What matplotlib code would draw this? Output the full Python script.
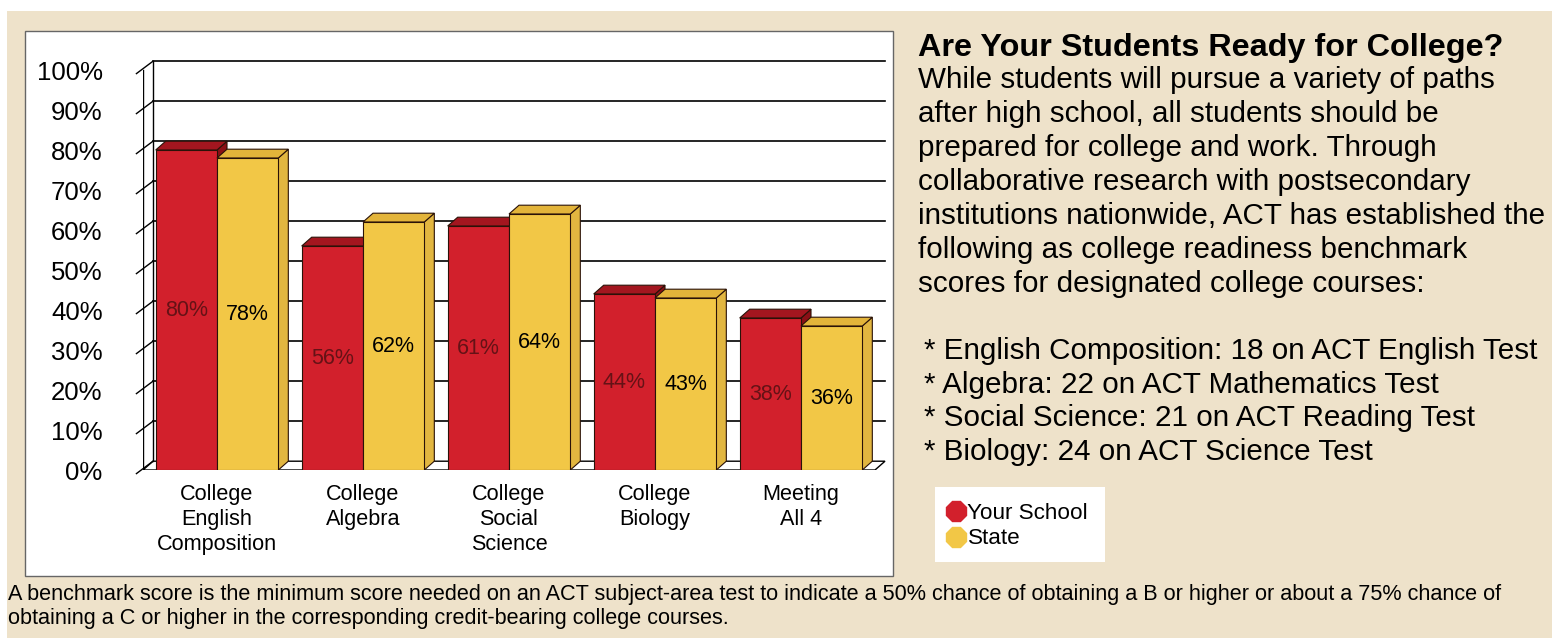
import matplotlib
matplotlib.use('Agg')
from matplotlib import pyplot as plt
from matplotlib.patches import Polygon, Rectangle
from matplotlib.lines import Line2D

plt.rcParams['font.family'] = ['Liberation Sans', 'DejaVu Sans']

# data
categories = ['College\nEnglish\nComposition', 'College\nAlgebra',
              'College\nSocial\nScience', 'College\nBiology', 'Meeting\nAll 4']
school = [80, 56, 61, 44, 38]
state = [78, 62, 64, 43, 36]
series_names = ['Your School', 'State']
yticks = list(range(0, 101, 10))

title = 'Are Your Students Ready for College?'
body_lines = ['While students will pursue a variety of paths',
              'after high school, all students should be',
              'prepared for college and work. Through',
              'collaborative research with postsecondary',
              'institutions nationwide, ACT has established the',
              'following as college readiness benchmark',
              'scores for designated college courses:']
benchmarks = ['* English Composition: 18 on ACT English Test',
              '* Algebra: 22 on ACT Mathematics Test',
              '* Social Science: 21 on ACT Reading Test',
              '* Biology: 24 on ACT Science Test']
footnote = ['A benchmark score is the minimum score needed on an ACT subject-area test to indicate a 50% chance of obtaining a B or higher or about a 75% chance of',
            'obtaining a C or higher in the corresponding credit-bearing college courses.']

W, H = 1552, 638
BG = '#EEE2CA'
RED = ('#D2202C', '#A3161F', '#8A1016')      # front, top, side
YEL = ('#F2C746', '#E3B43A', '#E2B640')

fig = plt.figure(figsize=(W / 100, H / 100), dpi=100)
fig.patch.set_facecolor('white')

def fx(px):
    return px / W

def fy(py):
    return 1 - py / H

# tan page and white chart panel
fig.patches.append(Rectangle((fx(7), 0), 1, fy(11), transform=fig.transFigure,
                             facecolor=BG, edgecolor='none', zorder=0))
fig.patches.append(Rectangle((fx(25), fy(576)), fx(893 - 25), (576 - 31) / H,
                             transform=fig.transFigure, facecolor='white',
                             edgecolor='#666666', lw=1.0, zorder=0))

# axes: x in group units (centres 0..4), y in percent
left_px, right_px, base_px, top_px = 143, 893, 470, 30
c0, step = 217, 146
ax = fig.add_axes([fx(left_px), fy(base_px), fx(right_px - left_px), (base_px - top_px) / H])
ax.set_zorder(2)
ax.set_xlim((left_px - c0) / step, (right_px - c0) / step)
ax.set_ylim(0, (base_px - top_px) / 4)
ax.patch.set_alpha(0)
for s in ax.spines.values():
    s.set_visible(False)
ax.set_xticks([])
ax.set_yticks(yticks)
ax.set_yticklabels(['%d%%' % t for t in yticks], fontsize=18.5)
ax.tick_params(axis='y', length=0, pad=29)

dx, dy = 10 / step, 2.2
xf = (left_px - c0) / step
xr = (885 - c0) / step
xb = xf + dx
bw = 0.42

# 3d frame: floor, left wall, back wall grid
floor = Polygon([(xf, 0), (xr - dx, 0), (xr, dy), (xb, dy)], closed=True,
                facecolor='white', edgecolor='black', lw=1.0, zorder=1)
ax.add_patch(floor)
ax.plot([xf, xf], [0, 100], color='black', lw=1.0, zorder=1)
ax.plot([xb, xb], [dy, 100 + dy], color='black', lw=1.0, zorder=1)
for t in yticks[1:]:
    ax.plot([xb, xr], [t + dy, t + dy], color='black', lw=1.2, zorder=1)
for t in yticks:
    ax.plot([xf - 0.045, xb], [t - 0.9, t + dy], color='black', lw=1.0, zorder=1,
            clip_on=False)

def bar3d(x0, v, cols, z):
    x1 = x0 + bw
    side = Polygon([(x1, 0), (x1 + dx, dy), (x1 + dx, v + dy), (x1, v)], closed=True,
                   facecolor=cols[2], edgecolor='#2a1208', lw=0.8, zorder=z)
    top = Polygon([(x0, v), (x1, v), (x1 + dx, v + dy), (x0 + dx, v + dy)], closed=True,
                  facecolor=cols[1], edgecolor='#2a1208', lw=0.8, zorder=z)
    ax.add_patch(side)
    ax.add_patch(top)

for i, (a, b) in enumerate(zip(school, state)):
    bar3d(i - bw, a, RED, 2 + i * 4)
    ax.bar(i - bw / 2, a, width=bw, color=RED[0], edgecolor='#2a1208', lw=0.8, zorder=3 + i * 4)
    bar3d(i, b, YEL, 4 + i * 4)
    ax.bar(i + bw / 2, b, width=bw, color=YEL[0], edgecolor='#2a1208', lw=0.8, zorder=5 + i * 4)
    ax.text(i - bw / 2, a / 2, '%d%%' % a, ha='center', va='center', fontsize=15.5,
            color='#651216', zorder=30)
    ax.text(i + bw / 2, b / 2, '%d%%' % b, ha='center', va='center', fontsize=15.5,
            color='black', zorder=30)
    ax.text(i, -3.4, categories[i], ha='center', va='top', fontsize=15.6,
            linespacing=1.25, clip_on=False)

# right-hand text
fig.text(fx(918), fy(56), title, fontsize=23.3, fontweight='bold', va='baseline')
for k, line in enumerate(body_lines):
    fig.text(fx(918), fy(88 + 34 * k), line, fontsize=21.3, va='baseline')
for k, line in enumerate(benchmarks):
    fig.text(fx(924), fy(359 + 33.7 * k), line, fontsize=21.3, va='baseline')

# legend
fig.patches.append(Rectangle((fx(935), fy(562)), fx(1105 - 935), (562 - 487) / H,
                             transform=fig.transFigure, facecolor='white',
                             edgecolor='none', zorder=1))
handles = [Line2D([], [], marker='8', ls='none', markersize=15.5, markerfacecolor=RED[0],
                  markeredgecolor=RED[0]),
           Line2D([], [], marker='8', ls='none', markersize=15.5, markerfacecolor=YEL[0],
                  markeredgecolor=YEL[0])]
fig.legend(handles, series_names, loc='upper left', bbox_to_anchor=(fx(945), fy(503)),
           frameon=False, fontsize=16.2, handlelength=0.95, handletextpad=0.05,
           labelspacing=0.2, borderpad=0, borderaxespad=0)

# footnote
for k, line in enumerate(footnote):
    fig.text(fx(8), fy(600 + 24 * k), line, fontsize=15.6, va='baseline')

fig.savefig('out.png', dpi=100, facecolor=fig.get_facecolor())
